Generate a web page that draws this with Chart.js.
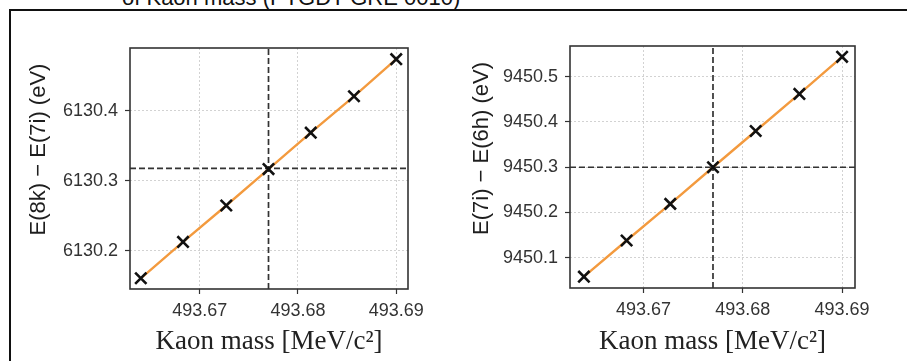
<!DOCTYPE html>
<html>
<head>
<meta charset="utf-8">
<script src="https://cdn.jsdelivr.net/npm/chart.js@4.4.0/dist/chart.umd.min.js"></script>
<style>
  body { margin: 0; background: #fff; width: 907px; height: 361px; overflow: hidden; position: relative; }
  #frame { position: absolute; left: 9px; top: 9px; width: 1000px; height: 1000px; border-left: 2px solid #111; border-top: 2px solid #111; }
  #heading { position: absolute; left: 122px; top: -15px; font: 22px "Liberation Sans", Arial, sans-serif; color: #111; white-space: nowrap; }
  canvas { position: absolute; top: 0; }
</style>
</head>
<body>
<div id="heading">of Kaon mass (PTGDT GRE 0010)</div>
<div id="frame"></div>
<canvas id="chart-left" width="450" height="361" style="left:0"></canvas>
<canvas id="chart-right" width="457" height="361" style="left:450px"></canvas>
<script>
// scanned kaon mass values (MeV/c^2)
var kaonMass = [493.664, 493.6683, 493.6727, 493.677, 493.6813, 493.6857, 493.690];
// transition energies (eV)
var e8kMinus7i = [6130.161, 6130.213, 6130.265, 6130.317, 6130.369, 6130.421, 6130.474];
var e7iMinus6h = [9450.058, 9450.138, 9450.219, 9450.300, 9450.380, 9450.462, 9450.544];
// reference (PDG) mass and energies there
var pdgMass = 493.677;
var e8kMinus7iAtPdg = 6130.318;
var e7iMinus6hAtPdg = 9450.300;
// tick labels
var massTicks = [493.67, 493.68, 493.69];
var leftTicks = [6130.2, 6130.3, 6130.4];
var rightTicks = [9450.1, 9450.2, 9450.3, 9450.4, 9450.5];

var sans = '"Liberation Sans", Arial, sans-serif';

var yLabelPlugin = {
    id: 'yLabel',
    afterDraw: function (chart, args, opts) {
        var ctx = chart.ctx;
        ctx.save();
        ctx.translate(opts.x, opts.y);
        ctx.rotate(-Math.PI / 2);
        ctx.font = '22px ' + sans;
        ctx.fillStyle = '#1e1e1e';
        ctx.textAlign = 'center';
        ctx.textBaseline = 'middle';
        ctx.fillText(opts.text, 0, 0);
        ctx.restore();
    }
};

var boxPlugin = {
    id: 'box',
    afterDatasetsDraw: function (chart) {
        var a = chart.chartArea, ctx = chart.ctx;
        ctx.save();
        ctx.strokeStyle = '#333';
        ctx.lineWidth = 1.6;
        ctx.strokeRect(a.left, a.top, a.right - a.left, a.bottom - a.top);
        ctx.restore();
    }
};

function makeChart(id, ys, yRef, yTicks, yLabel, cfg) {
    var pts = kaonMass.map(function (m, i) { return {x: m, y: ys[i]}; });
    var ctx = document.getElementById(id).getContext('2d');
    return new Chart(ctx, {
        type: 'scatter',
        data: {
            datasets: [{
                data: [{x: pdgMass, y: cfg.yMin}, {x: pdgMass, y: cfg.yMax}],
                showLine: true, borderColor: '#333', borderWidth: 1.7, borderDash: [6, 3],
                pointRadius: 0, order: 4
            }, {
                data: [{x: cfg.xMin, y: yRef}, {x: cfg.xMax, y: yRef}],
                showLine: true, borderColor: '#333', borderWidth: 1.7, borderDash: [6, 3],
                pointRadius: 0, order: 3
            }, {
                data: pts,
                showLine: true, borderColor: '#f39a3e', borderWidth: 2.4,
                pointRadius: 0, order: 2
            }, {
                data: pts,
                showLine: false, pointStyle: 'crossRot', pointRadius: 8,
                pointBorderWidth: 2.6, borderColor: '#111', backgroundColor: '#111', order: 1
            }]
        },
        options: {
            responsive: false,
            animation: false,
            devicePixelRatio: 1,
            layout: {padding: cfg.padding},
            plugins: {
                legend: {display: false},
                tooltip: {enabled: false},
                yLabel: {text: yLabel, x: cfg.labelX, y: cfg.labelY}
            },
            scales: {
                x: {
                    type: 'linear',
                    min: cfg.xMin,
                    max: cfg.xMax,
                    afterBuildTicks: function (s) { s.ticks = massTicks.map(function (v) { return {value: v}; }); },
                    afterFit: function (s) { s.height = cfg.xHeight; },
                    ticks: {
                        callback: function (v) { return v.toFixed(2); },
                        font: {family: sans, size: 18}, color: '#333',
                        padding: 6, maxRotation: 0, autoSkip: false
                    },
                    grid: {color: '#d2d2d2', lineWidth: 1, tickLength: 5, tickColor: '#333', tickWidth: 1.2, borderDash: [2, 2]},
                    border: {display: false, dash: [2, 2]},
                    title: {
                        display: true, text: 'Kaon mass [MeV/c²]', color: '#222',
                        font: {family: '"Liberation Serif", "Times New Roman", serif', size: 27},
                        padding: {top: 0, bottom: 3}
                    }
                },
                y: {
                    type: 'linear',
                    min: cfg.yMin,
                    max: cfg.yMax,
                    afterBuildTicks: function (s) { s.ticks = yTicks.map(function (v) { return {value: v}; }); },
                    afterFit: function (s) { s.width = cfg.yWidth; },
                    ticks: {
                        callback: function (v) { return v.toFixed(1); },
                        font: {family: sans, size: 18}, color: '#333', padding: 7
                    },
                    grid: {color: '#d2d2d2', lineWidth: 1, tickLength: 5, tickColor: '#333', tickWidth: 1.2, borderDash: [2, 2]},
                    border: {display: false, dash: [2, 2]}
                }
            }
        },
        plugins: [yLabelPlugin, boxPlugin]
    });
}

makeChart('chart-left', e8kMinus7i, e8kMinus7iAtPdg, leftTicks, 'E(8k) \u2212 E(7i) (eV)', {
    xMin: 493.6629, xMax: 493.6912, yMin: 6130.1457, yMax: 6130.49,
    padding: {left: 0, top: 48, right: 42, bottom: 0},
    yWidth: 130, xHeight: 72, labelX: 39, labelY: 149.5
});

makeChart('chart-right', e7iMinus6h, e7iMinus6hAtPdg, rightTicks, 'E(7i) \u2212 E(6h) (eV)', {
    xMin: 493.6626, xMax: 493.6913, yMin: 9450.033, yMax: 9450.568,
    padding: {left: 0, top: 46, right: 52, bottom: 0},
    yWidth: 120, xHeight: 73, labelX: 32, labelY: 148.5
});
</script>
</body>
</html>
